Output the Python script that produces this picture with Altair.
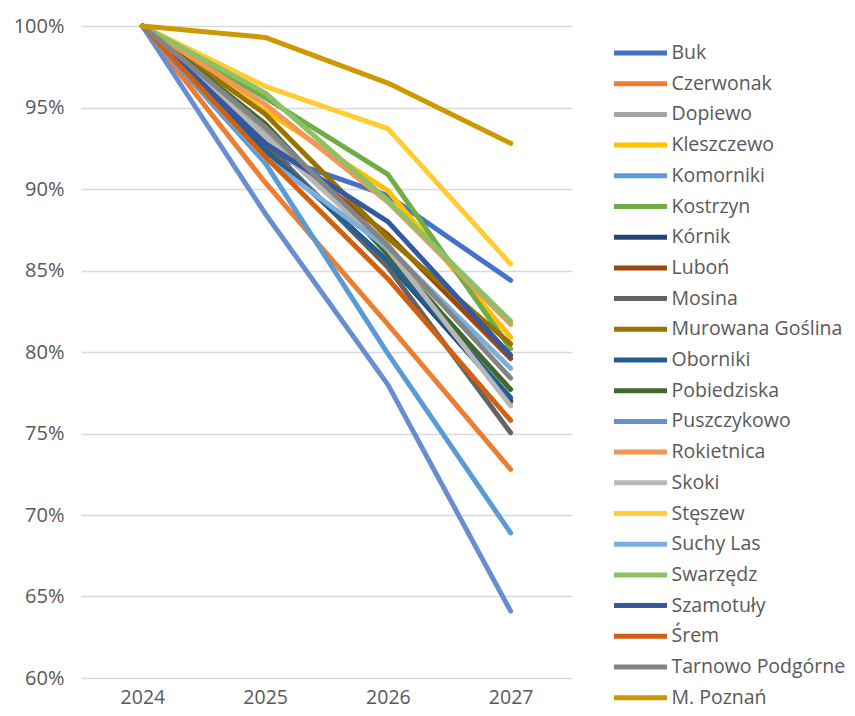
import altair as alt
import pandas as pd

years = ["2024", "2025", "2026", "2027"]

names = [
    "Buk", "Czerwonak", "Dopiewo", "Kleszczewo", "Komorniki", "Kostrzyn",
    "Kórnik", "Luboń", "Mosina", "Murowana Goślina", "Oborniki", "Pobiedziska",
    "Puszczykowo", "Rokietnica", "Skoki", "Stęszew", "Suchy Las", "Swarzędz",
    "Szamotuły", "Śrem", "Tarnowo Podgórne", "M. Poznań",
]

colors = [
    "#4472C4", "#ED7D31", "#A5A5A5", "#FFC000", "#5B9BD5", "#70AD47",
    "#264478", "#9E480E", "#636363", "#997300", "#255E91", "#43682B",
    "#698ED0", "#F1975A", "#B7B7B7", "#FFCD33", "#7CAFDD", "#8CC168",
    "#335AA1", "#D26012", "#848484", "#CC9A00",
]

# values in % for 2024, 2025, 2026, 2027
buk = [100, 92.2, 89.6, 84.4]
czerwonak = [100, 90.4, 81.7, 72.8]
dopiewo = [100, 93.6, 86.6, 76.9]
kleszczewo = [100, 94.8, 89.9, 80.9]
komorniki = [100, 91.6, 79.9, 68.9]
kostrzyn = [100, 95.6, 90.9, 80.2]
kornik = [100, 92.6, 85.5, 77.0]
lubon = [100, 93.0, 87.2, 79.6]
mosina = [100, 92.8, 85.2, 75.05]
murowana = [100, 94.6, 87.0, 80.5]
oborniki = [100, 92.4, 85.6, 77.2]
pobiedziska = [100, 94.0, 86.0, 77.7]
puszczykowo = [100, 88.5, 78.0, 64.1]
rokietnica = [100, 95.2, 89.2, 81.7]
skoki = [100, 93.2, 86.3, 76.7]
steszew = [100, 96.3, 93.7, 85.4]
suchy_las = [100, 91.9, 86.4, 79.0]
swarzedz = [100, 95.9, 89.3, 81.9]
szamotuly = [100, 92.8, 88.0, 79.8]
srem = [100, 92.0, 84.5, 75.8]
tarnowo = [100, 93.8, 86.5, 78.4]
poznan = [100, 99.3, 96.5, 92.8]

series = [buk, czerwonak, dopiewo, kleszczewo, komorniki, kostrzyn, kornik,
          lubon, mosina, murowana, oborniki, pobiedziska, puszczykowo,
          rokietnica, skoki, steszew, suchy_las, swarzedz, szamotuly, srem,
          tarnowo, poznan]

rows = []
for i, (n, vals) in enumerate(zip(names, series)):
    for y, v in zip(years, vals):
        rows.append({"Gmina": n, "Rok": y, "Wartość": v / 100.0, "order": i})
df = pd.DataFrame(rows)

FONT = "Open Sans"
TXT = "#595959"

chart = alt.Chart(df).mark_line(
    strokeWidth=5, strokeCap="round", strokeJoin="round"
).encode(
    x=alt.X("Rok:N", sort=years, title=None,
            scale=alt.Scale(type="point", padding=0.5),
            axis=alt.Axis(labelAngle=0, ticks=False, domain=False, grid=False,
                          labelPadding=10, labelFontSize=19.5, labelFont=FONT,
                          labelColor=TXT)),
    y=alt.Y("Wartość:Q", title=None,
            scale=alt.Scale(domain=[0.6, 1.0], nice=False, zero=False),
            axis=alt.Axis(format=".0%", values=[0.6, 0.65, 0.7, 0.75, 0.8, 0.85, 0.9, 0.95, 1.0],
                          ticks=False, domain=False, grid=True,
                          gridColor="#D9D9D9", gridWidth=1.5,
                          labelPadding=17, labelFontSize=20, labelFont=FONT,
                          labelColor=TXT)),
    color=alt.Color("Gmina:N", sort=names,
                    scale=alt.Scale(domain=names, range=colors),
                    legend=alt.Legend(title=None, orient="none",
                                      legendX=540, legendY=7.5,
                                      symbolType="M-1.56,0H1.56", symbolSize=1156,
                                      symbolStrokeWidth=5,
                                      rowPadding=0.7, labelOffset=11.5,
                                      labelFont=FONT, labelFontSize=19.5,
                                      labelColor=TXT, labelLimit=300)),
    detail="Gmina:N",
    order=alt.Order("order:Q"),
).properties(
    width=491, height=652,
    padding={"left": 5, "top": 8, "right": 0, "bottom": 0},
).configure_view(stroke=None)

chart.save("out.html", embed_options={"renderer": "svg", "actions": False})
